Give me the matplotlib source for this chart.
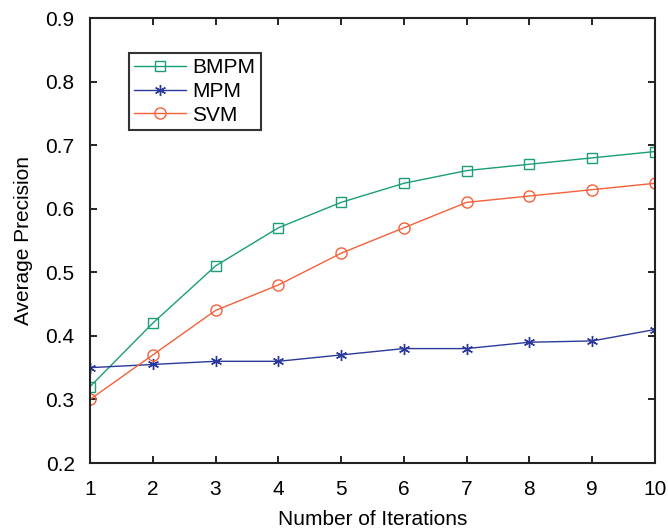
import matplotlib
matplotlib.use("Agg")
import matplotlib.pyplot as plt

plt.rcParams['font.family'] = ['Liberation Sans', 'DejaVu Sans']

iterations = [1, 2, 3, 4, 5, 6, 7, 8, 9, 10]
bmpm = [0.32, 0.42, 0.51, 0.57, 0.61, 0.64, 0.66, 0.67, 0.68, 0.69]
mpm = [0.35, 0.355, 0.36, 0.36, 0.37, 0.38, 0.38, 0.39, 0.392, 0.41]
svm = [0.30, 0.37, 0.44, 0.48, 0.53, 0.57, 0.61, 0.62, 0.63, 0.64]

fig = plt.figure(figsize=(6.68, 5.30), dpi=100)
ax = fig.add_axes([0.1347, 0.1264, 0.8458, 0.8396])

ax.plot(iterations, bmpm, color='#1a9e78', marker='s', markersize=7, markerfacecolor='none',
        markeredgewidth=1.0, linewidth=1.0, label='BMPM')
ax.plot(iterations, mpm, color='#2b3a9a', marker=(6, 2, 0), markersize=8,
        markeredgewidth=1.0, linewidth=1.0, label='MPM')
ax.plot(iterations, svm, color='#f4613b', marker='o', markersize=8, markerfacecolor='none',
        markeredgewidth=1.0, linewidth=1.0, label='SVM')

ax.set_xlim(1, 10)
ax.set_ylim(0.2, 0.9)
ax.set_xticks(iterations)
ax.set_yticks([0.2, 0.3, 0.4, 0.5, 0.6, 0.7, 0.8, 0.9])
ax.set_yticklabels(['0.2', '0.3', '0.4', '0.5', '0.6', '0.7', '0.8', '0.9'])
ax.tick_params(direction='in', top=True, right=True, labelsize=15, length=5, width=1.2)
ax.tick_params(axis='y', pad=11)
ax.tick_params(axis='x', pad=12)
for s in ax.spines.values():
    s.set_linewidth(1.5)
    s.set_color('#222222')

ax.set_xlabel('Number of Iterations', fontsize=15, labelpad=8)
ax.set_ylabel('Average Precision', fontsize=15, labelpad=9)

leg = ax.legend(loc='upper left', bbox_to_anchor=(0.0690, 0.921), borderaxespad=0,
                fontsize=15, frameon=True,
                fancybox=False, edgecolor='black', borderpad=0.25, labelspacing=0.22,
                handlelength=2.5, handletextpad=0.3)
leg.get_frame().set_linewidth(1.5)

fig.savefig('out.png', dpi=100)
